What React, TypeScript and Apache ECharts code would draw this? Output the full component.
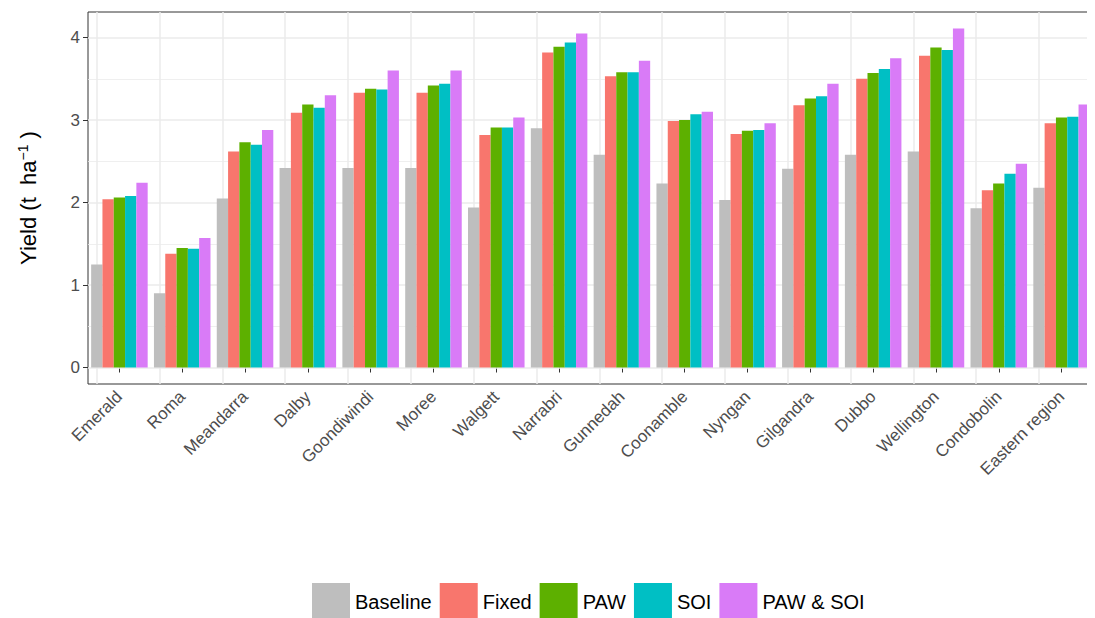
import { useEffect, useRef } from "react";
import * as echarts from "echarts";

const sites = ["Emerald", "Roma", "Meandarra", "Dalby", "Goondiwindi", "Moree", "Walgett", "Narrabri", "Gunnedah", "Coonamble", "Nyngan", "Gilgandra", "Dubbo", "Wellington", "Condobolin", "Eastern region"];
const baseline = [1.25, 0.9, 2.05, 2.42, 2.42, 2.42, 1.94, 2.9, 2.58, 2.23, 2.03, 2.41, 2.58, 2.62, 1.93, 2.18];
const fixed = [2.04, 1.38, 2.62, 3.09, 3.33, 3.33, 2.82, 3.82, 3.53, 2.99, 2.83, 3.18, 3.5, 3.78, 2.15, 2.96];
const paw = [2.06, 1.45, 2.73, 3.19, 3.38, 3.42, 2.91, 3.89, 3.58, 3.0, 2.87, 3.26, 3.57, 3.88, 2.23, 3.03];
const soi = [2.08, 1.44, 2.7, 3.15, 3.37, 3.44, 2.91, 3.94, 3.58, 3.07, 2.88, 3.29, 3.62, 3.85, 2.35, 3.04];
const pawSoi = [2.24, 1.57, 2.88, 3.3, 3.6, 3.6, 3.03, 4.05, 3.72, 3.1, 2.96, 3.44, 3.75, 4.11, 2.47, 3.19];
const yTicks = [0, 1, 2, 3, 4];
const yGrid = [0.5, 1, 1.5, 2, 2.5, 3, 3.5, 4];

const seriesDefs = [
  { name: "Baseline", data: baseline, color: "#bebebe" },
  { name: "Fixed", data: fixed, color: "#f8766d" },
  { name: "PAW", data: paw, color: "#5db000" },
  { name: "SOI", data: soi, color: "#00bfc4" },
  { name: "PAW & SOI", data: pawSoi, color: "#d97bf7" },
];

export default function App() {
  const ref = useRef<HTMLDivElement | null>(null);

  useEffect(() => {
    if (!ref.current) return;
    const chart = echarts.init(ref.current, null, { renderer: "svg" });
    const gridLine = { color: "#ebebeb", width: 1, type: "solid" };
    const option: any = {
      animation: false,
      textStyle: { fontFamily: "Liberation Sans, Arial, sans-serif" },
      grid: { left: 80, right: 2, top: 4, bottom: 234, show: true, borderColor: "#333", borderWidth: 1, backgroundColor: "#fff" },
      legend: {
        top: 570,
        left: 299,
        itemWidth: 38,
        itemHeight: 38,
        itemGap: 8,
        icon: "rect",
        textStyle: { fontSize: 20, color: "#000", padding: [14, 0, 0, 0] },
        data: seriesDefs.map((s) => s.name),
      },
      xAxis: {
        type: "category",
        data: sites,
        axisLine: { show: false },
        axisTick: { show: true, alignWithLabel: true, length: 5, lineStyle: { color: "#333" } },
        axisLabel: { rotate: 45, fontSize: 17, color: "#4d4d4d", margin: 10, interval: 0 },
        splitLine: { show: false },
      },
      yAxis: {
        type: "value",
        min: -0.2,
        max: 4.31,
        name: "{a|Yield (t  ha}{sup|−1}{a| )}",
        nameLocation: "middle",
        nameGap: 48,
        nameRotate: 90,
        nameTextStyle: { rich: { a: { fontSize: 22, color: "#000" }, sup: { fontSize: 14, color: "#000", verticalAlign: "top", padding: [0, 0, 10, 0] } } },
        axisLine: { show: false },
        axisTick: { show: true, customValues: yTicks, length: 5, lineStyle: { color: "#333" } },
        axisLabel: { customValues: yTicks, fontSize: 17, color: "#4d4d4d", margin: 8 },
        splitLine: { show: false },
      },
      series: seriesDefs.map((s, i) => ({
        name: s.name,
        type: "bar",
        data: s.data,
        itemStyle: { color: s.color },
        barGap: "0%",
        barCategoryGap: "10%",
        z: 3,
        ...(i === 0
          ? {
              markLine: {
                silent: true,
                symbol: "none",
                label: { show: false },
                lineStyle: gridLine,
                z: 1,
                data: [
                  ...yGrid.map((v) => ({ yAxis: v, lineStyle: { ...gridLine, width: Number.isInteger(v) ? 1.5 : 0.8 } })),
                  { yAxis: 0, lineStyle: { ...gridLine, width: 1.5 } },
                  ...sites.map((c) => ({ xAxis: c, lineStyle: { ...gridLine, width: 1.5 } })),
                ],
              },
            }
          : {}),
      })),
    };
    chart.setOption(option);
    return () => chart.dispose();
  }, []);

  return <div ref={ref} style={{ width: 1087, height: 610 }} />;
}
